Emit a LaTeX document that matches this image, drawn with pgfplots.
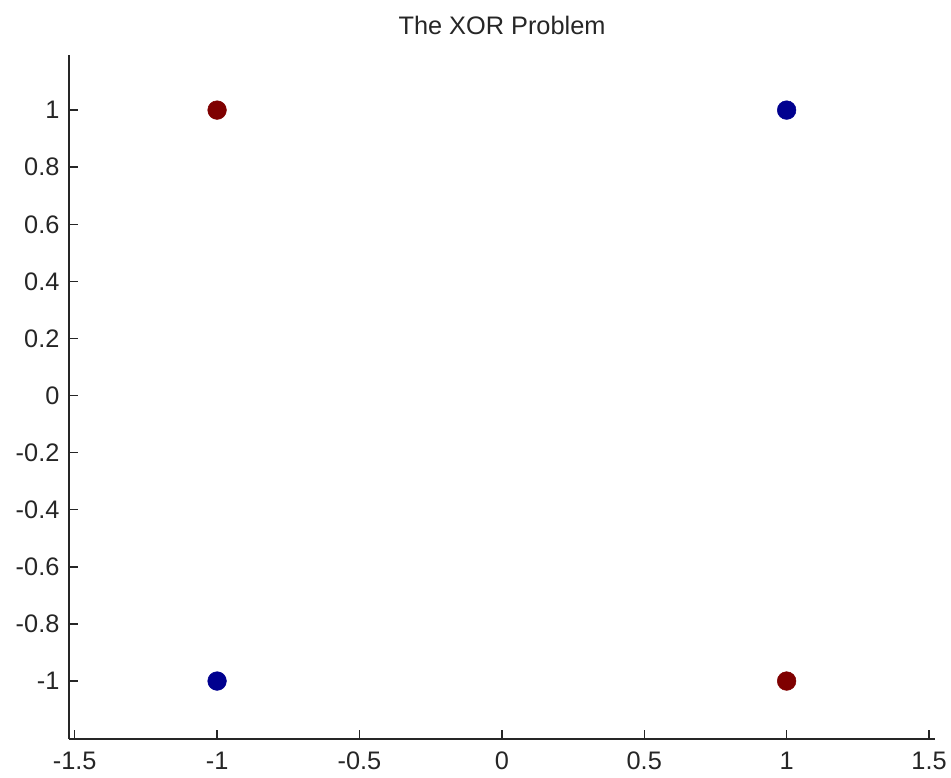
\documentclass[border=0pt]{standalone}
\usepackage{pgfplots}
\pgfplotsset{compat=1.18}
\usepackage{fontspec}
\setmainfont{Liberation Sans}
\definecolor{axgray}{RGB}{38,38,38}
\definecolor{dred}{RGB}{127,0,0}
\definecolor{dblue}{RGB}{0,0,143}
\begin{document}
\begin{tikzpicture}
\path[use as bounding box] (-51.75pt,-29.25pt) rectangle (661.5pt,554.25pt);
\begin{axis}[
  at={(0,0)}, anchor=south west,
  scale only axis, width=649.5pt, height=513pt,
  xmin=-1.52, xmax=1.521, ymin=-1.203, ymax=1.193,
  axis lines=left, axis line style={-, line width=1.1pt, draw=axgray},
  tick align=inside, major tick length=6.75pt,
  tick style={line width=1.1pt, draw=axgray},
  xtick={-1.5,-1,-0.5,0,0.5,1,1.5},
  ytick={-1,-0.8,-0.6,-0.4,-0.2,0,0.2,0.4,0.6,0.8,1},
  /pgf/number format/assume math mode=true,
  /pgf/number format/fixed,
  /pgf/number format/precision=1,
  ticklabel style={font=\fontsize{19}{22}\selectfont, text=axgray, inner sep=0pt},
  xticklabel style={anchor=north, yshift=-9.5pt},
  yticklabel style={anchor=east, xshift=-7pt},
  title={The XOR Problem},
  title style={font=\fontsize{19}{22}\selectfont, text=axgray, at={(axis description cs:0.5,1)}, anchor=center, yshift=16.5pt, inner sep=0pt},
  clip=false,
]
\addplot[only marks, mark=*, mark size=7pt, color=dred, mark options={fill=dred, draw=dred}] coordinates {(-1,1) (1,-1)};
\addplot[only marks, mark=*, mark size=7pt, color=dblue, mark options={fill=dblue, draw=dblue}] coordinates {(1,1) (-1,-1)};
\end{axis}
\end{tikzpicture}
\end{document}
